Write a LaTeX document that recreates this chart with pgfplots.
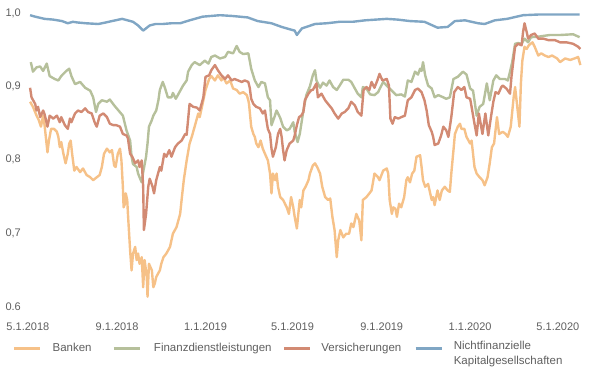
\documentclass[border=0pt]{standalone}
\usepackage{pgfplots}
\pgfplotsset{compat=1.18}
\usepackage{fontspec}
\setmainfont{Liberation Sans}
\definecolor{banken}{RGB}{246,193,136}
\definecolor{finanz}{RGB}{182,192,155}
\definecolor{vers}{RGB}{210,138,115}
\definecolor{nicht}{RGB}{128,166,196}
\definecolor{textgray}{RGB}{95,95,95}
\begin{document}
\begin{tikzpicture}
\useasboundingbox (-25bp,-64bp) rectangle (565bp,306.3bp);
\begin{axis}[
  at={(0,0)}, anchor=south west,
  scale only axis,
  width=558.25bp, height=293.3bp,
  xmin=-4, xmax=766, ymin=0.6, ymax=1.0,
  axis line style={draw=none},
  major tick length=0pt,
  xtick={0,123,245,365,488,610,731},
  xticklabels={5.1.2018,9.1.2018,1.1.2019,5.1.2019,9.1.2019,1.1.2020,5.1.2020},
  ytick={0.6,0.7,0.8,0.9,1.0},
  yticklabels={0.6,{0,7},{0,8},{0,9},{1,0}},
  tick label style={font=\fontsize{11bp}{13bp}\selectfont, text=textgray},
  xticklabel style={anchor=north, inner sep=0pt, yshift=-16bp},
  yticklabel style={anchor=east, inner sep=0pt, xshift=-4bp},
  every axis plot/.append style={line width=2.4bp, line join=round, mark=none},
  legend columns=4,
  legend cell align=left,
  legend image code/.code={\draw[#1] (0bp,0bp) -- (26bp,0bp);},
  legend style={at={(0,0)}, anchor=west, xshift=-12bp, yshift=-42bp,
    draw=none, fill=none, inner sep=0pt, column sep=0pt,
    nodes={inner sep=0pt, text=textgray},
    font=\fontsize{11.5bp}{15bp}\selectfont},
]
\addplot[banken] coordinates {
(3,0.879)(7,0.872)(12,0.860)(15,0.854)(18,0.845)(21,0.860)(23,0.847)(27,0.810)(29,0.826)(32,0.842)(36,0.842)(40,0.838)(42,0.831)(44,0.817)(46,0.824)(49,0.808)(52,0.795)(55,0.808)(57,0.822)(59,0.826)(61,0.808)(64,0.785)(67,0.790)(72,0.783)(76,0.788)(81,0.779)(86,0.776)(90,0.772)(95,0.776)(99,0.779)(102,0.790)(105,0.808)(109,0.815)(113,0.810)(116,0.813)(119,0.792)(121,0.790)(124,0.808)(127,0.815)(129,0.799)(131,0.763)(132,0.735)(134,0.740)(135,0.754)(137,0.745)(138,0.726)(141,0.676)(143,0.649)(145,0.672)(148,0.681)(150,0.663)(152,0.672)(154,0.658)(157,0.667)(159,0.626)(161,0.663)(164,0.640)(165,0.613)(167,0.658)(171,0.649)(173,0.626)(175,0.631)(177,0.640)(182,0.649)(184,0.658)(187,0.667)(191,0.672)(196,0.681)(200,0.699)(205,0.708)(210,0.726)(212,0.745)(215,0.772)(219,0.799)(223,0.822)(226,0.831)(230,0.845)(235,0.863)(237,0.858)(242,0.881)(245,0.895)(250,0.910)(253,0.914)(258,0.908)(262,0.915)(267,0.908)(269,0.913)(274,0.904)(279,0.908)(283,0.897)(288,0.895)(292,0.890)(297,0.892)(302,0.888)(304,0.881)(305,0.876)(308,0.845)(311,0.835)(313,0.831)(315,0.822)(318,0.817)(321,0.826)(324,0.815)(327,0.808)(331,0.799)(334,0.781)(336,0.754)(338,0.781)(341,0.772)(343,0.781)(345,0.763)(348,0.749)(352,0.745)(357,0.735)(360,0.726)(363,0.749)(366,0.735)(368,0.722)(371,0.706)(373,0.726)(375,0.745)(377,0.735)(380,0.758)(383,0.763)(387,0.772)(389,0.781)(393,0.792)(396,0.795)(399,0.790)(403,0.781)(406,0.763)(410,0.749)(414,0.745)(417,0.747)(420,0.722)(423,0.704)(426,0.667)(428,0.690)(431,0.704)(435,0.694)(439,0.699)(443,0.699)(446,0.713)(449,0.708)(453,0.726)(457,0.717)(460,0.690)(462,0.745)(467,0.749)(471,0.754)(474,0.758)(476,0.769)(478,0.781)(483,0.776)(485,0.772)(490,0.785)(495,0.788)(497,0.781)(499,0.745)(502,0.726)(504,0.735)(507,0.733)(509,0.722)(512,0.740)(515,0.735)(519,0.749)(522,0.772)(524,0.776)(527,0.769)(530,0.781)(533,0.785)(536,0.804)(541,0.806)(543,0.790)(545,0.772)(548,0.763)(552,0.767)(554,0.758)(557,0.745)(559,0.749)(561,0.738)(565,0.758)(568,0.745)(571,0.758)(575,0.763)(579,0.758)(582,0.756)(584,0.781)(587,0.813)(589,0.835)(593,0.845)(596,0.849)(598,0.842)(602,0.842)(605,0.831)(610,0.822)(612,0.826)(616,0.790)(619,0.781)(623,0.776)(627,0.772)(630,0.765)(634,0.776)(637,0.795)(640,0.817)(643,0.822)(645,0.840)(647,0.858)(650,0.835)(655,0.838)(659,0.835)(662,0.831)(666,0.845)(670,0.885)(672,0.899)(674,0.881)(678,0.845)(680,0.904)(682,0.935)(685,0.954)(688,0.951)(691,0.956)(696,0.960)(699,0.954)(704,0.942)(708,0.945)(713,0.942)(718,0.940)(723,0.942)(730,0.938)(734,0.933)(741,0.938)(748,0.936)(754,0.938)(759,0.940)(762,0.929)
};
\addlegendentry{\hspace{11bp}\makebox[60bp][l]{Banken}}
\addplot[finanz] coordinates {
(4,0.933)(7,0.920)(12,0.926)(17,0.927)(21,0.921)(26,0.931)(30,0.914)(37,0.910)(42,0.908)(46,0.914)(53,0.921)(57,0.924)(60,0.914)(65,0.903)(72,0.906)(79,0.898)(86,0.894)(90,0.885)(94,0.865)(97,0.876)(102,0.881)(109,0.879)(113,0.882)(119,0.874)(125,0.867)(131,0.860)(136,0.840)(141,0.826)(143,0.804)(145,0.794)(150,0.790)(152,0.781)(154,0.776)(157,0.769)(159,0.783)(163,0.804)(165,0.822)(167,0.845)(171,0.854)(173,0.860)(177,0.867)(180,0.881)(182,0.895)(186,0.906)(189,0.898)(193,0.885)(198,0.885)(200,0.891)(204,0.883)(209,0.892)(214,0.901)(219,0.908)(221,0.920)(226,0.929)(230,0.933)(237,0.929)(244,0.935)(249,0.931)(253,0.940)(258,0.942)(265,0.938)(272,0.940)(276,0.947)(283,0.945)(288,0.955)(292,0.947)(297,0.944)(304,0.945)(306,0.935)(308,0.924)(313,0.908)(318,0.899)(322,0.906)(327,0.904)(331,0.885)(334,0.881)(336,0.847)(340,0.858)(343,0.867)(348,0.857)(352,0.845)(357,0.840)(361,0.842)(366,0.851)(368,0.838)(372,0.824)(375,0.835)(380,0.867)(384,0.888)(389,0.900)(393,0.915)(396,0.922)(398,0.908)(403,0.898)(407,0.905)(412,0.901)(416,0.908)(421,0.899)(426,0.895)(430,0.901)(435,0.909)(442,0.909)(446,0.906)(451,0.897)(455,0.890)(460,0.885)(462,0.899)(467,0.897)(472,0.889)(478,0.888)(483,0.892)(490,0.906)(497,0.899)(502,0.894)(508,0.888)(515,0.889)(520,0.886)(524,0.908)(529,0.906)(534,0.920)(538,0.916)(541,0.924)(543,0.921)(545,0.933)(548,0.915)(552,0.901)(557,0.897)(561,0.885)(566,0.888)(573,0.885)(577,0.883)(582,0.885)(587,0.910)(593,0.913)(600,0.920)(605,0.916)(610,0.897)(614,0.894)(619,0.860)(623,0.872)(628,0.876)(633,0.904)(637,0.881)(642,0.908)(646,0.915)(651,0.910)(658,0.910)(662,0.908)(665,0.920)(668,0.933)(672,0.958)(676,0.959)(681,0.958)(685,0.965)(690,0.960)(694,0.967)(706,0.968)(720,0.970)(734,0.970)(752,0.971)(761,0.967)
};
\addlegendentry{\hspace{13bp}\makebox[129bp][l]{Finanzdienstleistungen}}
\addplot[vers] coordinates {
(3,0.898)(5,0.885)(10,0.876)(12,0.867)(14,0.872)(17,0.858)(21,0.867)(23,0.862)(27,0.845)(30,0.860)(35,0.856)(40,0.860)(44,0.851)(46,0.858)(51,0.847)(55,0.842)(58,0.856)(60,0.851)(65,0.863)(69,0.867)(74,0.865)(79,0.870)(83,0.865)(88,0.863)(92,0.851)(95,0.845)(99,0.860)(104,0.863)(109,0.858)(113,0.849)(118,0.847)(122,0.847)(127,0.845)(131,0.835)(136,0.833)(138,0.829)(141,0.808)(144,0.804)(148,0.795)(152,0.799)(154,0.790)(157,0.799)(159,0.763)(160,0.704)(163,0.726)(166,0.763)(168,0.774)(172,0.763)(174,0.754)(177,0.772)(182,0.790)(184,0.785)(188,0.808)(191,0.804)(195,0.813)(198,0.804)(203,0.817)(207,0.822)(212,0.826)(217,0.835)(219,0.834)(223,0.876)(228,0.872)(233,0.871)(237,0.867)(242,0.885)(245,0.913)(250,0.915)(253,0.922)(258,0.929)(262,0.922)(267,0.915)(272,0.910)(276,0.915)(281,0.908)(285,0.910)(290,0.908)(295,0.906)(299,0.908)(304,0.906)(306,0.898)(308,0.883)(311,0.876)(315,0.872)(320,0.870)(324,0.863)(327,0.867)(329,0.854)(331,0.842)(334,0.835)(336,0.815)(338,0.804)(342,0.817)(345,0.835)(348,0.842)(350,0.831)(352,0.813)(354,0.799)(357,0.813)(361,0.822)(366,0.826)(368,0.833)(371,0.847)(374,0.858)(377,0.860)(380,0.865)(382,0.881)(387,0.890)(391,0.895)(393,0.895)(398,0.904)(400,0.885)(405,0.890)(410,0.881)(414,0.876)(419,0.870)(423,0.863)(428,0.856)(433,0.863)(437,0.865)(442,0.870)(446,0.879)(451,0.874)(455,0.865)(460,0.860)(463,0.895)(467,0.899)(471,0.895)(474,0.906)(478,0.898)(482,0.908)(485,0.917)(489,0.908)(495,0.910)(498,0.901)(500,0.856)(503,0.849)(506,0.858)(511,0.856)(515,0.858)(520,0.860)(524,0.881)(529,0.885)(534,0.895)(538,0.897)(543,0.892)(547,0.881)(550,0.867)(553,0.847)(557,0.838)(559,0.831)(561,0.820)(566,0.822)(570,0.833)(573,0.845)(577,0.840)(580,0.831)(584,0.858)(588,0.892)(593,0.899)(598,0.895)(602,0.899)(605,0.885)(610,0.883)(612,0.872)(616,0.849)(619,0.833)(622,0.863)(627,0.835)(631,0.863)(635,0.833)(639,0.860)(642,0.879)(645,0.892)(649,0.890)(653,0.899)(655,0.901)(660,0.897)(665,0.890)(667,0.913)(670,0.938)(672,0.954)(676,0.958)(681,0.956)(683,0.974)(685,0.986)(688,0.974)(690,0.965)(694,0.970)(699,0.972)(704,0.965)(711,0.965)(718,0.963)(727,0.963)(734,0.960)(743,0.960)(752,0.958)(759,0.954)(762,0.951)
};
\addlegendentry{\hspace{10bp}\makebox[93bp][l]{Versicherungen}}
\addplot[nicht] coordinates {
(3,0.997)(10,0.995)(23,0.992)(35,0.991)(47,0.989)(55,0.986)(62,0.988)(69,0.987)(80,0.986)(97,0.985)(107,0.987)(116,0.989)(130,0.992)(145,0.988)(152,0.983)(159,0.976)(168,0.983)(176,0.985)(186,0.985)(198,0.986)(210,0.986)(223,0.990)(241,0.995)(265,0.997)(281,0.996)(303,0.994)(317,0.989)(336,0.986)(350,0.981)(364,0.977)(368,0.976)(371,0.970)(374,0.974)(378,0.979)(396,0.985)(412,0.986)(430,0.988)(448,0.988)(465,0.990)(480,0.991)(495,0.992)(510,0.991)(527,0.989)(547,0.988)(556,0.984)(565,0.980)(579,0.981)(589,0.989)(603,0.990)(621,0.986)(630,0.985)(644,0.990)(661,0.992)(683,0.997)(706,0.998)(730,0.998)(761,0.998)
};
\addlegendentry{\hspace{11bp}\begin{tabular}{@{}l@{}}Nichtfinanzielle\\Kapitalgesellschaften\end{tabular}}
\end{axis}
\end{tikzpicture}
\end{document}
